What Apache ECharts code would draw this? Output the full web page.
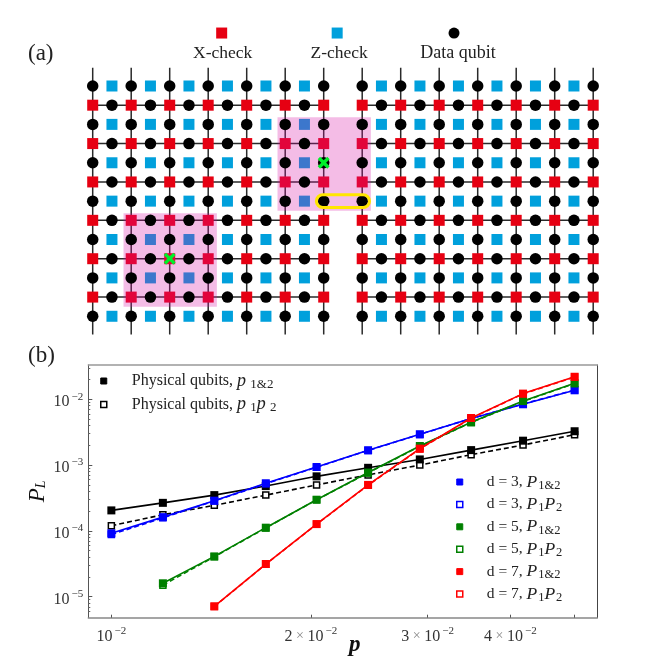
<!DOCTYPE html>
<html>
<head>
<meta charset="utf-8">
<style>
  html, body { margin: 0; padding: 0; background: #fff; }
  #chart { width: 665px; height: 665px; }
</style>
<script src="https://cdn.jsdelivr.net/npm/echarts@6/dist/echarts.min.js"></script>
</head>
<body>
<div id="chart"></div>
<script>
// --- panel (a): lattice, in half-plaquette steps
const evenCols = [0, 2, 4, 6, 8, 10, 12, 14, 16, 18, 20, 22, 24, 26]
const oddCols = [1, 3, 5, 7, 9, 11, 15, 17, 19, 21, 23, 25] // col 13 is the removed one
const evenRows = [0, 2, 4, 6, 8, 10, 12]
const oddRows = [1, 3, 5, 7, 9, 11]
const errorSites = [[4, 9], [12, 4]]
const patches = [[1.6, 6.63, 6.45, 11.5], [9.6, 1.63, 14.45, 6.5]]
const latticeKeys = [['X-check', 6.7], ['Z-check', 12.7], ['Data qubit', 18.77]]

// --- panel (b): logical error rates
const pValues = [0.01, 0.01196, 0.0143, 0.0171, 0.0204, 0.0244, 0.0292, 0.0349, 0.0418, 0.05]
const physP12 = [2.05e-4, 2.67e-4, 3.5e-4, 4.8e-4, 6.75e-4, 9.1e-4, 1.22e-3, 1.69e-3, 2.35e-3, 3.27e-3]
const physP1P2 = [1.2e-4, 1.76e-4, 2.45e-4, 3.5e-4, 5.0e-4, 7.1e-4, 1.0e-3, 1.44e-3, 2.02e-3, 2.9e-3]
const d3P12 = [9.2e-5, 1.62e-4, 2.88e-4, 5.3e-4, 9.35e-4, 1.68e-3, 2.94e-3, 5.1e-3, 8.4e-3, 1.37e-2]
const d3P1P2 = [8.8e-5, 1.58e-4, 2.85e-4, 5.2e-4, 9.3e-4, 1.67e-3, 2.93e-3, 5.1e-3, 8.5e-3, 1.38e-2]
const d5P12 = [null, 1.6e-5, 4.1e-5, 1.12e-4, 2.98e-4, 7.7e-4, 1.95e-3, 4.47e-3, 9.4e-3, 1.75e-2]
const d5P1P2 = [null, 1.5e-5, 4.05e-5, 1.11e-4, 2.97e-4, 7.6e-4, 1.93e-3, 4.45e-3, 9.3e-3, 1.74e-2]
const d7P12 = [null, null, 7.15e-6, 3.14e-5, 1.27e-4, 5.0e-4, 1.78e-3, 5.2e-3, 1.22e-2, 2.2e-2]
const d7P1P2 = [null, null, 7.1e-6, 3.12e-5, 1.26e-4, 4.95e-4, 1.76e-3, 5.15e-3, 1.21e-2, 2.18e-2]
const xTickValues = [0.01, 0.02, 0.03, 0.04, 0.05]
const xLabelValues = [0.01, 0.02, 0.03, 0.04]
const yTickValues = [1e-5, 1e-4, 1e-3, 1e-2]
const yMinorValues = [
  6e-6, 7e-6, 8e-6, 9e-6,
  2e-5, 3e-5, 4e-5, 5e-5, 6e-5, 7e-5, 8e-5, 9e-5,
  2e-4, 3e-4, 4e-4, 5e-4, 6e-4, 7e-4, 8e-4, 9e-4,
  2e-3, 3e-3, 4e-3, 5e-3, 6e-3, 7e-3, 8e-3, 9e-3,
  2e-2, 3e-2,
]

const SERIF = '"Liberation Serif", "Times New Roman", serif'
const XRED = '#e60012'
const ZBLUE = '#00a0dc'

const cross = (cols, rows) => {
  const out = []
  rows.forEach(r => cols.forEach(c => out.push([c, r])))
  return out
}

// wire segments: [x1, y1, x2, y2]
const wires = [
  ...evenCols.map(c => [c, -0.95, c, 12.95]),
  ...oddRows.map(r => [0, r, 12, r]),
  ...oddRows.map(r => [14, r, 26, r]),
]

const pts = ys => pValues.map((p, i) => [p, ys[i]])

const curve = (name, ys, color, open, dashed, z) => ({
  name,
  type: 'line',
  xAxisIndex: 1,
  yAxisIndex: 1,
  data: pts(ys).filter(d => d[1] !== null),
  color,
  symbol: 'rect',
  symbolSize: open ? 6 : 8,
  showAllSymbol: true,
  lineStyle: { color, width: 1.6, type: dashed ? [5, 3] : 'solid' },
  itemStyle: open
    ? { color: '#fff', borderColor: color, borderWidth: 1.5 }
    : { color },
  emphasis: { disabled: true },
  z,
})

const curveLabel = name => {
  const [head, tail] = name.split(', ')
  if (tail === 'P1&2') return `{t|${head}, }{i|P}{u|1&2}`
  if (tail === 'P1P2') return `{t|${head}, }{i|P}{u|1}{i|P}{u|2}`
  if (tail === 'p1&2') return `{t|${head}, }{i|p}{u| 1&2}`
  return `{t|${head}, }{i|p}{u| 1}{i|p}{u| 2}`
}

const legendRich = size => ({
  t: { fontFamily: SERIF, fontSize: size, color: '#222', lineHeight: 20 },
  i: { fontFamily: SERIF, fontSize: size + 2, fontStyle: 'italic', color: '#222', lineHeight: 20 },
  u: { fontFamily: SERIF, fontSize: size - 3, color: '#222', padding: [7, 0, 0, 1], lineHeight: 20 },
})

const legendItem = (name, color, open) => ({
  name,
  icon: 'rect',
  itemStyle: open
    ? { color: '#fff', borderColor: color, borderWidth: 1.5 }
    : { color, borderColor: color, borderWidth: 1 },
})

const option = {
  backgroundColor: '#fff',
  animation: false,
  graphic: [
    { type: 'text', left: 28, top: 42, style: { text: '(a)', fontFamily: SERIF, fontSize: 23, fill: '#222' } },
    { type: 'text', left: 28, top: 344, style: { text: '(b)', fontFamily: SERIF, fontSize: 23, fill: '#222' } },
  ],
  legend: [
    {
      left: 100,
      top: 371,
      orient: 'vertical',
      itemWidth: 6,
      itemHeight: 6,
      itemGap: 3.4,
      selectedMode: false,
      padding: 0,
      data: [legendItem('Physical qubits, p1&2', '#000', false), legendItem('Physical qubits, p1p2', '#000', true)],
      formatter: curveLabel,
      textStyle: { padding: [0, 0, 0, 20], rich: legendRich(16) },
    },
    {
      left: 456,
      top: 472,
      orient: 'vertical',
      itemWidth: 6,
      itemHeight: 6,
      itemGap: 2.4,
      selectedMode: false,
      padding: 0,
      data: [
        legendItem('d = 3, P1&2', '#0000ff', false),
        legendItem('d = 3, P1P2', '#0000ff', true),
        legendItem('d = 5, P1&2', '#008000', false),
        legendItem('d = 5, P1P2', '#008000', true),
        legendItem('d = 7, P1&2', '#ff0000', false),
        legendItem('d = 7, P1P2', '#ff0000', true),
      ],
      formatter: curveLabel,
      textStyle: { padding: [0, 0, 0, 19], rich: legendRich(15.5) },
    },
  ],
  grid: [
    { left: 92.7 - 19.25, top: 86 - 3 * 19.19, width: 28 * 19.25, height: 16 * 19.19, show: false, outerBoundsMode: 'none' },
    { left: 88.3, top: 365, width: 509, height: 252.7, show: false, outerBoundsMode: 'none' },
  ],
  xAxis: [
    { gridIndex: 0, type: 'value', min: -1, max: 27, show: false },
    {
      gridIndex: 1,
      type: 'log',
      min: 0.00923,
      max: 0.0541,
      position: 'bottom',
      name: 'p',
      nameLocation: 'middle',
      nameGap: 16,
      nameMoveOverlap: false,
      nameTextStyle: { fontFamily: SERIF, fontSize: 23, fontStyle: 'italic', fontWeight: 'bold', color: '#111', padding: [0, 0, 0, 24] },
      axisLine: { lineStyle: { color: '#888', width: 1.5 } },
      axisTick: { inside: true, length: 3, customValues: xTickValues, lineStyle: { color: '#555', width: 1 } },
      splitLine: { show: false },
      minorTick: { show: false },
      axisLabel: {
        customValues: xLabelValues,
        margin: 8,
        formatter: v => {
          const m = Math.round(v / 0.01)
          return m === 1 ? '{n|10}{e|−2}' : `{n|${m}}{x| × }{n|10}{e|−2}`
        },
        rich: {
          n: { fontFamily: SERIF, fontSize: 16, color: '#333' },
          x: { fontFamily: SERIF, fontSize: 14, color: '#888' },
          e: { fontFamily: SERIF, fontSize: 11, color: '#333', padding: [0, 0, 11, 2] },
        },
      },
    },
    { gridIndex: 1, type: 'value', min: 0, max: 1, position: 'top', axisLine: { show: true, onZero: false, lineStyle: { color: '#999', width: 1.5 } }, axisTick: { show: false }, axisLabel: { show: false }, splitLine: { show: false } },
  ],
  yAxis: [
    { gridIndex: 0, type: 'value', min: -3, max: 13, inverse: true, show: false },
    {
      gridIndex: 1,
      type: 'log',
      min: 4.8e-6,
      max: 0.0332,
      position: 'left',
      name: '{i|P}{l|L}',
      nameLocation: 'middle',
      nameGap: 39,
      nameRotate: 90,
      nameMoveOverlap: false,
      nameTextStyle: {
        rich: {
          i: { fontFamily: SERIF, fontSize: 23, fontStyle: 'italic', color: '#111' },
          l: { fontFamily: SERIF, fontSize: 14, fontStyle: 'italic', color: '#111', padding: [8, 0, 0, 0] },
        },
      },
      axisLine: { lineStyle: { color: '#555', width: 1 } },
      axisTick: { inside: true, length: 4, customValues: yTickValues, lineStyle: { color: '#555', width: 1 } },
      splitLine: { show: false },
      minorTick: { show: false },
      axisLabel: {
        customValues: yTickValues,
        margin: 5,
        padding: [6, 0, 0, 0],
        formatter: v => `{n|10}{e|−${Math.abs(Math.round(Math.log10(v)))}}`,
        rich: {
          n: { fontFamily: SERIF, fontSize: 16, color: '#333' },
          e: { fontFamily: SERIF, fontSize: 11, color: '#333', padding: [0, 0, 11, 2] },
        },
      },
    },
    {
      gridIndex: 1,
      type: 'log',
      min: 4.8e-6,
      max: 0.0332,
      position: 'left',
      axisLine: { show: false },
      axisTick: { inside: true, length: 2, customValues: yMinorValues, lineStyle: { color: '#666', width: 1 } },
      axisLabel: { show: false },
      splitLine: { show: false },
    },
    { gridIndex: 1, type: 'value', min: 0, max: 1, position: 'right', axisLine: { show: true, onZero: false, lineStyle: { color: '#444', width: 1 } }, axisTick: { show: false }, axisLabel: { show: false }, splitLine: { show: false } },
  ],
  series: [
    {
      type: 'custom',
      name: 'wires',
      coordinateSystem: 'cartesian2d',
      xAxisIndex: 0,
      yAxisIndex: 0,
      data: wires,
      silent: true,
      clip: false,
      z: 1,
      renderItem: (params, api) => {
        const a = api.coord([api.value(0), api.value(1)])
        const b = api.coord([api.value(2), api.value(3)])
        return { type: 'line', shape: { x1: a[0], y1: a[1], x2: b[0], y2: b[1] }, style: { stroke: '#2a2a2a', lineWidth: 1.5 } }
      },
    },
    {
      type: 'scatter',
      name: 'X-check',
      xAxisIndex: 0,
      yAxisIndex: 0,
      data: cross(evenCols, oddRows),
      symbol: 'rect',
      symbolSize: 11,
      itemStyle: { color: XRED, opacity: 1 },
      silent: true,
      z: 2,
    },
    {
      type: 'scatter',
      name: 'Z-check',
      xAxisIndex: 0,
      yAxisIndex: 0,
      data: cross(oddCols, evenRows),
      symbol: 'rect',
      symbolSize: 11,
      itemStyle: { color: ZBLUE, opacity: 1 },
      silent: true,
      z: 2,
    },
    {
      type: 'custom',
      name: 'patches',
      coordinateSystem: 'cartesian2d',
      xAxisIndex: 0,
      yAxisIndex: 0,
      data: patches,
      silent: true,
      z: 3,
      renderItem: (params, api) => {
        const a = api.coord([api.value(0), api.value(1)])
        const b = api.coord([api.value(2), api.value(3)])
        return { type: 'rect', shape: { x: a[0], y: a[1], width: b[0] - a[0], height: b[1] - a[1] }, style: { fill: 'rgba(216,16,166,0.278)' } }
      },
    },
    {
      type: 'scatter',
      name: 'Data qubit',
      xAxisIndex: 0,
      yAxisIndex: 0,
      data: [...cross(evenCols, evenRows), ...cross(oddCols, oddRows)],
      symbol: 'circle',
      symbolSize: 11.5,
      itemStyle: { color: '#000', opacity: 1 },
      silent: true,
      z: 4,
    },
    {
      type: 'custom',
      name: 'pair',
      coordinateSystem: 'cartesian2d',
      xAxisIndex: 0,
      yAxisIndex: 0,
      data: [[11.62, 5.67, 14.38, 6.33]],
      silent: true,
      z: 5,
      renderItem: (params, api) => {
        const a = api.coord([api.value(0), api.value(1)])
        const b = api.coord([api.value(2), api.value(3)])
        const h = b[1] - a[1]
        return { type: 'rect', shape: { x: a[0], y: a[1], width: b[0] - a[0], height: h, r: h / 2 }, style: { fill: 'none', stroke: '#ffe600', lineWidth: 3 } }
      },
    },
    {
      type: 'scatter',
      name: 'errors',
      xAxisIndex: 0,
      yAxisIndex: 0,
      data: errorSites,
      symbol: 'path://M2 0 L5 3 L8 0 L10 2 L7 5 L10 8 L8 10 L5 7 L2 10 L0 8 L3 5 L0 2 Z',
      symbolSize: 12,
      itemStyle: { color: '#00f02a', opacity: 1 },
      silent: true,
      z: 6,
    },
    {
      type: 'scatter',
      name: 'keys',
      xAxisIndex: 0,
      yAxisIndex: 0,
      symbol: 'rect',
      symbolSize: 11,
      silent: true,
      z: 6,
      data: latticeKeys.map(([name, c], i) => ({
        name,
        value: [c, -2.76],
        symbol: i === 2 ? 'circle' : 'rect',
        itemStyle: { color: [XRED, ZBLUE, '#000'][i], opacity: 1 },
        label: { offset: [[1, 0], [2, 0], [4, 0]][i], fontSize: i === 2 ? 18 : 17.5 },
      })),
      label: {
        show: true,
        position: 'bottom',
        distance: 6,
        formatter: '{b}',
        fontFamily: SERIF,
        fontSize: 17.5,
        color: '#222',
      },
    },
    curve('Physical qubits, p1p2', physP1P2, '#000', true, true, 10),
    curve('Physical qubits, p1&2', physP12, '#000', false, false, 11),
    curve('d = 3, P1P2', d3P1P2, '#0000ff', true, true, 12),
    curve('d = 3, P1&2', d3P12, '#0000ff', false, false, 13),
    curve('d = 5, P1P2', d5P1P2, '#008000', true, true, 14),
    curve('d = 5, P1&2', d5P12, '#008000', false, false, 15),
    curve('d = 7, P1P2', d7P1P2, '#ff0000', true, true, 16),
    curve('d = 7, P1&2', d7P12, '#ff0000', false, false, 17),
  ],
}

const chart = echarts.init(document.getElementById('chart'), null, { renderer: 'canvas' })
chart.setOption(option)
</script>
</body>
</html>
